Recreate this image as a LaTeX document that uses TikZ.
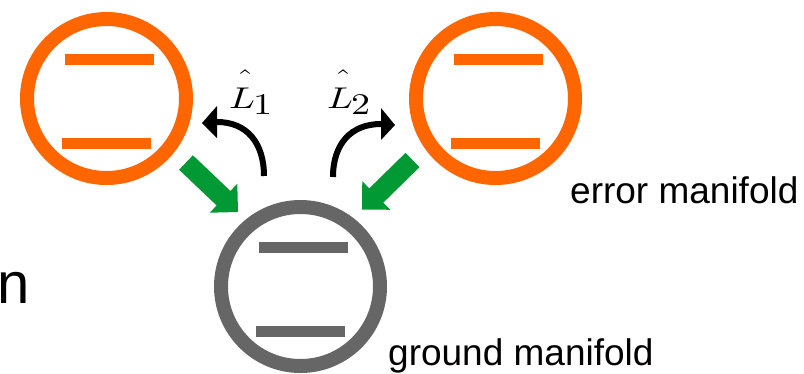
\documentclass[tikz,border=0pt]{standalone}
\usepackage{fontspec}
\setmainfont{Liberation Sans}
\usetikzlibrary{calc}
\definecolor{orng}{RGB}{255,102,0}
\definecolor{gry}{RGB}{102,102,102}
\definecolor{grn}{RGB}{0,153,51}
\newcommand\fatarrow[2]{%
  \coordinate (fab) at ($(#2)!20pt!(#1)$);
  \fill[grn] ($(#1)!10pt!90:(#2)$) -- ($(fab)!10pt!90:(#2)$) -- ($(fab)!20pt!90:(#2)$)
    -- (#2) -- ($(fab)!20pt!-90:(#2)$) -- ($(fab)!10pt!-90:(#2)$) -- ($(#1)!10pt!-90:(#2)$) -- cycle;}
\newcommand\oplabel[1]{\scalebox{3.8}[3]{$\rlap{$\kern0.8pt\hat{\vrule height 10pt width 0pt\phantom{L}}$}L\kern-0.5pt\raisebox{-2.3pt}{$#1$}$}}
\begin{document}
\begin{tikzpicture}[x=1pt,y=-1pt,
  ring/.style={draw=#1,line width=14pt,circle,minimum size=159pt,inner sep=0pt},
  levelbar/.style={draw=#1,line width=11pt},
  curvearrow/.style={draw=black,line width=6pt},
  lbl/.style={anchor=base west,inner sep=0pt,font=\fontsize{37}{40}\selectfont},
  oplbl/.style={anchor=base west,inner sep=0pt}]
\useasboundingbox (0,0) rectangle (804,373);
% manifolds
\node[ring=orng] (e1) at (106.5,98.5) {};
\node[ring=orng] (e2) at (495.5,98.5) {};
\node[ring=gry] (g) at (300.5,286.5) {};
\foreach \n/\c in {e1/orng,e2/orng,g/gry}{
  \draw[levelbar=\c] ($(\n)+(-42,-39.5)$) -- ($(\n)+(47,-39.5)$);
  \draw[levelbar=\c] ($(\n)+(-44.5,45)$) -- ($(\n)+(44.5,45)$);
}
% green decay arrows
\coordinate (g1s) at (186,162.5);
\coordinate (g1t) at (238,212);
\coordinate (g2s) at (412.5,160);
\coordinate (g2t) at (362,209.5);
\fatarrow{g1s}{g1t}
\fatarrow{g2s}{g2t}
% black curved arrows
\coordinate (l1s) at (264,176);
\coordinate (l1b) at (217,122);
\coordinate (l1t) at (202,123);
\draw[curvearrow] (l1s) .. controls (264,143) and (247,122) .. (l1b);
\fill[black] (l1t) -- (217,106) -- (217,138) -- cycle;
\coordinate (l2s) at (333,177);
\coordinate (l2b) at (381,124);
\coordinate (l2t) at (395,125);
\draw[curvearrow] (l2s) .. controls (333,144) and (351,124) .. (l2b);
\fill[black] (l2t) -- (381,108) -- (381,140) -- cycle;
% labels
\node[oplbl] (L1) at (229,108) {\oplabel{1}};
\node[oplbl] (L2) at (327,108) {\oplabel{2}};
\node[lbl] (errt) at (570,203) {error manifold};
\node[lbl] (gndt) at (388,365) {ground manifold};
\node[anchor=base west,inner sep=0pt,font=\fontsize{58}{60}\selectfont] (nt) at (-3,303) {n};
\end{tikzpicture}
\end{document}
